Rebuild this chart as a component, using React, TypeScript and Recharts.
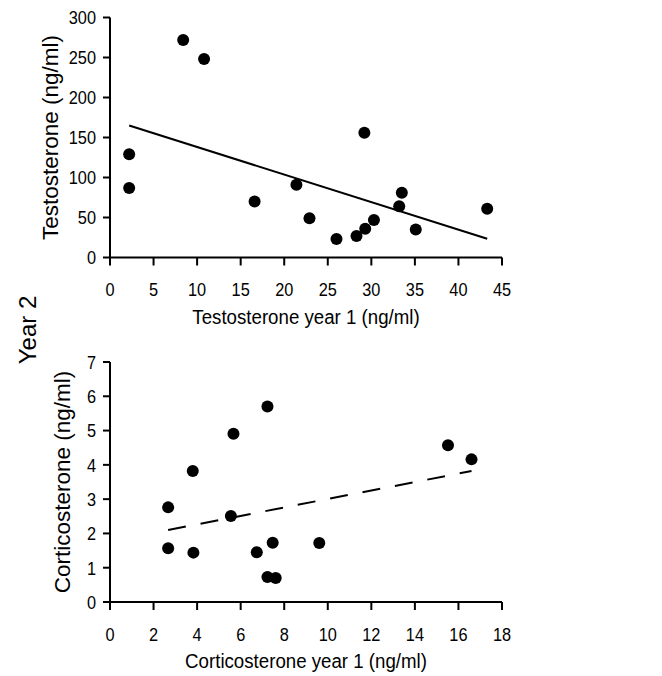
import React from 'react';
import { ScatterChart, Scatter, XAxis, YAxis, ReferenceLine, Label } from 'recharts';

// year 1 vs year 2 testosterone
const testX = [2.2, 2.2, 8.4, 10.8, 16.6, 21.4, 22.9, 26.0, 28.3, 29.3, 29.2, 30.3, 33.2, 33.5, 35.1, 43.3];
const testY = [129, 87, 272, 248, 70, 91, 49, 23, 27, 36, 156, 47, 64, 81, 35, 61];
const testFitX = [2.2, 43.3];
const testFitY = [165, 23.5];
const testXTicks = [0, 5, 10, 15, 20, 25, 30, 35, 40, 45];
const testYTicks = [0, 50, 100, 150, 200, 250, 300];

// year 1 vs year 2 corticosterone
const cortX = [2.67, 2.67, 3.8, 3.83, 5.67, 5.55, 6.74, 7.23, 7.23, 7.61, 7.47, 9.61, 15.52, 16.6];
const cortY = [2.76, 1.57, 3.82, 1.44, 4.91, 2.51, 1.45, 5.7, 0.73, 0.7, 1.73, 1.72, 4.57, 4.16];
const cortFitX = [2.67, 16.6];
const cortFitY = [2.1, 3.82];
const cortXTicks = [0, 2, 4, 6, 8, 10, 12, 14, 16, 18];
const cortYTicks = [0, 1, 2, 3, 4, 5, 6, 7];

const FONT = '"Liberation Sans", Arial, Helvetica, sans-serif';
// the original type is a slightly condensed Helvetica
const SQUEEZE = 'scale(0.86,1)';

const toPoints = (xs: number[], ys: number[]) => xs.map((x, i) => ({ x, y: ys[i] }));

const Dot = (props: any) => <circle cx={props.cx} cy={props.cy} r={6} fill="#000" />;

const XTick = (props: any) => (
  <g transform={`translate(${props.x},${props.y})`}>
    <text transform={SQUEEZE} textAnchor="middle" dy="0.71em" fontFamily={FONT} fontSize={19} fill="#000">
      {props.payload.value}
    </text>
  </g>
);

const YTick = (props: any) => (
  <g transform={`translate(${props.x},${props.y})`}>
    <text transform={SQUEEZE} textAnchor="end" dy="0.36em" fontFamily={FONT} fontSize={19} fill="#000">
      {props.payload.value}
    </text>
  </g>
);

const xTitle = (text: string) => (props: any) => {
  const vb = props.viewBox;
  return (
    <g transform={`translate(${vb.x + vb.width / 2},${vb.y + 59})`}>
      <text transform="scale(0.89,1)" textAnchor="middle" dominantBaseline="central"
        fontFamily={FONT} fontSize={21} fill="#000">{text}</text>
    </g>
  );
};

const yTitle = (text: string, cx: number) => (props: any) => {
  const vb = props.viewBox;
  const cy = vb.y + vb.height / 2;
  return (
    <text x={cx} y={cy} transform={`rotate(-90, ${cx}, ${cy})`} textAnchor="middle" dominantBaseline="central"
      fontFamily={FONT} fontSize={22.5} fill="#000">{text}</text>
  );
};

const lineStyle = { stroke: '#000', strokeWidth: 2 };

interface PanelProps {
  points: { x: number; y: number }[];
  fit: { x: number; y: number }[];
  xDomain: number[];
  yDomain: number[];
  xTicks: number[];
  yTicks: number[];
  xLabel: string;
  yLabel: string;
  yLabelX: number;
  height: number;
  top: number;
  dashed?: boolean;
}

const Panel: React.FC<PanelProps> = (p) => (
  <ScatterChart width={662} height={p.height} margin={{ top: p.top, right: 160, left: 0, bottom: 0 }}>
    <XAxis type="number" dataKey="x" domain={p.xDomain} ticks={p.xTicks} interval={0}
      height={p.height - p.top - 240} tickSize={8} tickMargin={17}
      axisLine={lineStyle} tickLine={lineStyle} tick={XTick}>
      <Label content={xTitle(p.xLabel)} />
    </XAxis>
    <YAxis type="number" dataKey="y" domain={p.yDomain} ticks={p.yTicks} interval={0}
      width={110} tickSize={7} tickMargin={7}
      axisLine={lineStyle} tickLine={lineStyle} tick={YTick}>
      <Label content={yTitle(p.yLabel, p.yLabelX)} />
    </YAxis>
    <ReferenceLine segment={p.fit} stroke="#000" strokeWidth={2}
      strokeDasharray={p.dashed ? '18 15' : undefined} ifOverflow="visible" />
    <Scatter data={p.points} shape={Dot} isAnimationActive={false} />
  </ScatterChart>
);

export default function App() {
  return (
    <div style={{ position: 'absolute', left: 0, top: 0, width: 662, height: 676, background: '#fff' }}>
      <Panel points={toPoints(testX, testY)} fit={toPoints(testFitX, testFitY)}
        xDomain={[0, 45]} yDomain={[0, 300]} xTicks={testXTicks} yTicks={testYTicks}
        xLabel="Testosterone year 1 (ng/ml)" yLabel="Testosterone (ng/ml)" yLabelX={50}
        height={330} top={17.5} />
      <Panel points={toPoints(cortX, cortY)} fit={toPoints(cortFitX, cortFitY)}
        xDomain={[0, 18]} yDomain={[0, 7]} xTicks={cortXTicks} yTicks={cortYTicks}
        xLabel="Corticosterone year 1 (ng/ml)" yLabel="Corticosterone (ng/ml)" yLabelX={62}
        height={346} top={32} dashed />
      <svg width={60} height={120} style={{ position: 'absolute', left: 0, top: 270 }}>
        <text x={27.5} y={60} transform="rotate(-90, 27.5, 60)" textAnchor="middle" dominantBaseline="central"
          fontFamily={FONT} fontSize={24} fill="#000">Year 2</text>
      </svg>
    </div>
  );
}
